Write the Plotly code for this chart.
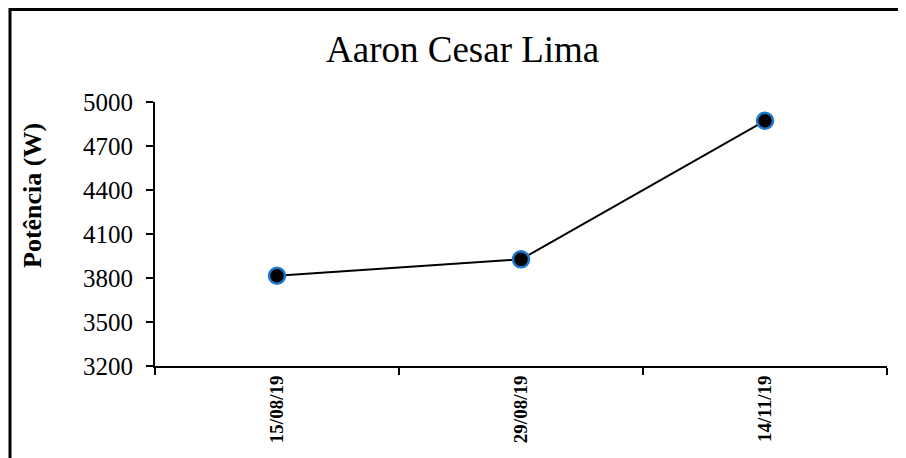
import plotly.graph_objects as go

# dados
datas = ['15/08/19', '29/08/19', '14/11/19']
potencia = [3815, 3927, 4872]
y_ticks = [3200, 3500, 3800, 4100, 4400, 4700, 5000]

# a página tem margem de 8px no body, por isso a figura é 8px menor
W, H = 898, 450
L, R, T, B = 147, 19, 94, 92


def px(x):  # pixel da página -> coord. paper
    return (x - 8 - L) / (W - L - R)


def py(y):
    return (H - B - (y - 8)) / (H - T - B)


fig = go.Figure()
fig.add_trace(go.Scatter(
    x=datas, y=potencia, mode='lines+markers',
    line=dict(color='black', width=2),
    marker=dict(size=16, color='black', line=dict(color='#1b7ad0', width=2.5)),
    showlegend=False,
))

fig.update_layout(
    width=W, height=H,
    margin=dict(l=L, r=R, t=T, b=B),
    paper_bgcolor='white', plot_bgcolor='white',
    font=dict(family='Liberation Serif', color='black'),
    annotations=[
        dict(text='Aaron Cesar Lima', x=px(462), y=py(50), xref='paper', yref='paper',
             xanchor='center', yanchor='middle',
             showarrow=False, font=dict(size=37)),
        dict(text='<b>Potência (W)</b>', x=px(32), y=py(196), xref='paper', yref='paper',
             xanchor='center', yanchor='middle',
             textangle=-90, showarrow=False,
             font=dict(size=26, family='Liberation Serif')),
    ],
)

fig.update_xaxes(
    type='category', tickson='boundaries', range=[-0.5, 2.5],
    showline=True, linecolor='black', linewidth=2,
    ticks='outside', ticklen=7, tickcolor='black', tickwidth=1.5,
    tickangle=-90, tickfont=dict(size=19, family='Liberation Serif'),
    tickprefix='<b>', ticksuffix='</b>', showgrid=False, zeroline=False,
)
fig.update_yaxes(
    range=[3200, 5000], tickvals=y_ticks,
    showline=True, linecolor='black', linewidth=2,
    ticks='outside', ticklen=7, tickcolor='black', tickwidth=1.5,
    ticklabelstandoff=8,
    tickfont=dict(size=25), showgrid=False, zeroline=False,
)

# moldura (esquerda e topo)
fig.add_shape(type='line', xref='paper', yref='paper',
              x0=px(10), x1=px(10), y0=py(470), y1=py(8),
              line=dict(color='black', width=3))
fig.add_shape(type='line', xref='paper', yref='paper',
              x0=px(9), x1=px(910), y0=py(9.5), y1=py(9.5),
              line=dict(color='black', width=3))

fig.write_html("out.html")
